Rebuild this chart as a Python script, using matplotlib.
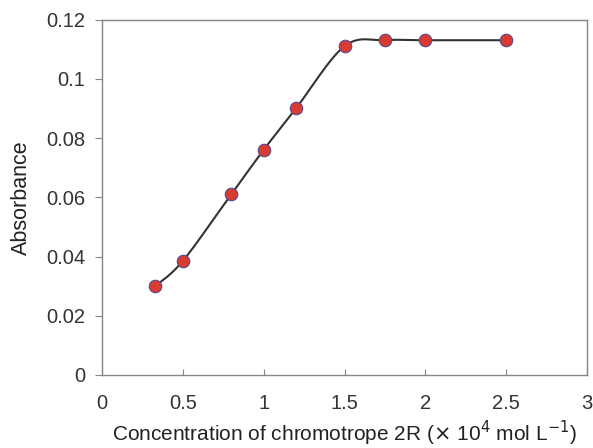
import numpy as np
import matplotlib.pyplot as plt

plt.rcParams['font.family'] = ['Liberation Sans', 'DejaVu Sans']

# Data
concentration = [0.33, 0.5, 0.8, 1.0, 1.2, 1.5, 1.75, 2.0, 2.5]
absorbance = [0.030, 0.0385, 0.061, 0.076, 0.090, 0.111, 0.113, 0.113, 0.113]


def smooth_line(x, y, n=30):
    # Excel-like smoothed line: cubic Bezier segments with Catmull-Rom tangents
    x = np.asarray(x, float)
    y = np.asarray(y, float)
    px = np.concatenate([[x[0]], x, [x[-1]]])
    py = np.concatenate([[y[0]], y, [y[-1]]])
    t = np.linspace(0, 1, n)
    xs, ys = [], []
    for i in range(1, len(px) - 2):
        p0 = np.array([px[i], py[i]])
        p3 = np.array([px[i + 1], py[i + 1]])
        p1 = p0 + (np.array([px[i + 1], py[i + 1]]) - np.array([px[i - 1], py[i - 1]])) / 6
        p2 = p3 - (np.array([px[i + 2], py[i + 2]]) - np.array([px[i], py[i]])) / 6
        b = ((1 - t) ** 3)[:, None] * p0 + (3 * (1 - t) ** 2 * t)[:, None] * p1 \
            + (3 * (1 - t) * t ** 2)[:, None] * p2 + (t ** 3)[:, None] * p3
        xs.extend(b[:, 0])
        ys.extend(b[:, 1])
    return xs, ys


fig = plt.figure(figsize=(5.93, 4.48), dpi=100)
ax = fig.add_axes([102 / 593, 1 - 375 / 448, 485 / 593, 355.5 / 448])

sx, sy = smooth_line(concentration, absorbance)
ax.plot(sx, sy, color='#333333', lw=1.5, zorder=2)
ax.plot(concentration, absorbance, 'o', ms=9, mfc='#d93a32', mec='#5a4a8a', mew=0.8, zorder=3)

ax.set_xlim(0, 3)
ax.set_ylim(0, 0.12)
ax.set_xticks([0, 0.5, 1, 1.5, 2, 2.5, 3])
ax.set_xticklabels(['0', '0.5', '1', '1.5', '2', '2.5', '3'])
ax.set_yticks([0, 0.02, 0.04, 0.06, 0.08, 0.1, 0.12])
ax.set_yticklabels(['0', '0.02', '0.04', '0.06', '0.08', '0.1', '0.12'])

for s in ax.spines.values():
    s.set_color('#8a8580')
    s.set_linewidth(1.0)
ax.tick_params(axis='x', direction='in', length=4, color='#8a8580', labelsize=14.5, labelcolor='#333333', pad=14)
ax.tick_params(axis='y', direction='out', length=5, color='#8a8580', labelsize=14.5, labelcolor='#333333', pad=7)

ax.set_xlabel(r'Concentration of chromotrope 2R ($\times$ 10$^{4}$ mol L$^{-1}$)', fontsize=15, color='#222222', labelpad=4)
ax.set_ylabel('Absorbance', fontsize=15.5, color='#222222', labelpad=10)

fig.savefig('out.png', dpi=100)
